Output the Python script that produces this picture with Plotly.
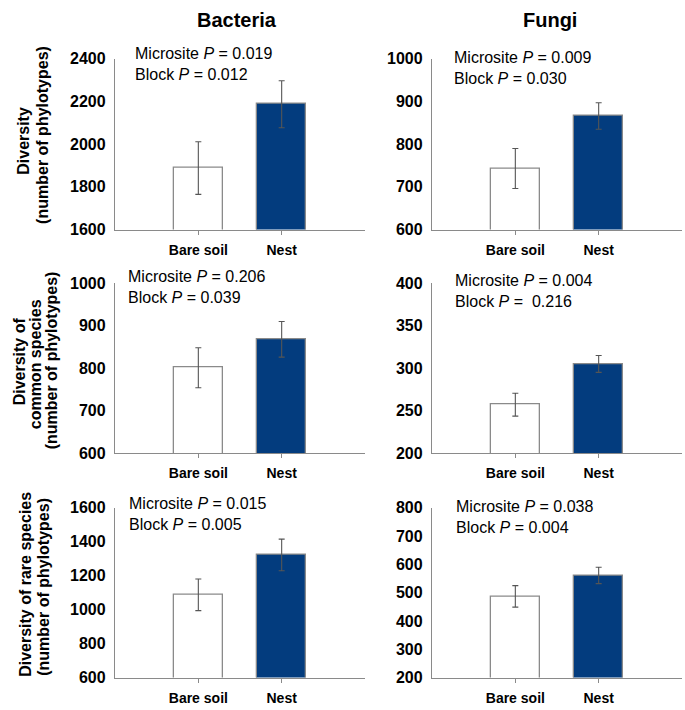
import plotly.graph_objects as go

W, H = 685, 710

categories = ["Bare soil", "Nest"]

# Panel values (mean, SE)
bact_div = [1888, 2187]
bact_div_err = [123, 110]
fungi_div = [743, 866]
fungi_div_err = [47, 31]
bact_common = [801, 868]
bact_common_err = [47, 42]
fungi_common = [257, 305]
fungi_common_err = [13.5, 10]
bact_rare = [1087, 1322]
bact_rare_err = [93, 93]
fungi_rare = [487, 561]
fungi_rare_err = [38, 29]

ranges = [[1600, 2400], [600, 1000], [600, 1000], [200, 400], [600, 1600], [200, 800]]
dticks = [200, 100, 100, 50, 200, 100]

p_texts = [
    "Microsite <i>P</i> = 0.019<br>Block <i>P</i> = 0.012",
    "Microsite <i>P</i> = 0.009<br>Block <i>P</i> = 0.030",
    "Microsite <i>P</i> = 0.206<br>Block <i>P</i> = 0.039",
    "Microsite <i>P</i> = 0.004<br>Block <i>P</i> =  0.216",
    "Microsite <i>P</i> = 0.015<br>Block <i>P</i> = 0.005",
    "Microsite <i>P</i> = 0.038<br>Block <i>P</i> = 0.004",
]
col_titles = ["Bacteria", "Fungi"]
row_title_lines = [
    ["Diversity", "(number of phylotypes)"],
    ["Diversity of", "common species", "(number of phylotypes)"],
    ["Diversity of rare species", "(number of phylotypes)"],
]

vals = [bact_div, fungi_div, bact_common, fungi_common, bact_rare, fungi_rare]
errs = [bact_div_err, fungi_div_err, bact_common_err, fungi_common_err, bact_rare_err, fungi_rare_err]

FONT = "Arial, Liberation Sans, sans-serif"
NAVY = "#033c7e"
GRAY = "#8a8a8a"

# pixel layout
col_x = [(115, 365), (432, 682)]
row_y = [(52, 227), (282, 456), (512, 686)]

fig = go.Figure()
layout = {}
for i in range(6):
    r, c = divmod(i, 2)
    n = i + 1
    xa = "x" if n == 1 else f"x{n}"
    ya = "y" if n == 1 else f"y{n}"
    fig.add_trace(go.Bar(
        x=[0, 1], y=vals[i], xaxis=xa, yaxis=ya, width=0.59,
        marker=dict(color=["white", NAVY], line=dict(color=GRAY, width=1.3)),
        error_y=dict(type="data", array=errs[i], color="#555555", thickness=1.1, width=3),
        showlegend=False, hoverinfo="skip",
    ))
    x0, x1 = col_x[c]
    y0, y1 = row_y[r]
    xk = "xaxis" if n == 1 else f"xaxis{n}"
    yk = "yaxis" if n == 1 else f"yaxis{n}"
    layout[xk] = dict(
        domain=[x0 / W, x1 / W], anchor=ya, range=[-1, 2],
        tickvals=[0, 1], ticktext=categories,
        showline=True, linecolor=GRAY, linewidth=1.3,
        ticks="outside", ticklen=4, tickcolor=GRAY, tickwidth=1,
        tickfont=dict(family=FONT, size=14, color="black", weight="bold"),
        ticklabelstandoff=3,
        showgrid=False, zeroline=False, fixedrange=True,
    )
    layout[yk] = dict(
        domain=[1 - y1 / H, 1 - y0 / H], anchor=xa, range=ranges[i], dtick=dticks[i],
        showline=True, linecolor=GRAY, linewidth=1.3,
        ticks="outside", ticklen=5, tickcolor="rgba(0,0,0,0)",
        tickfont=dict(family=FONT, size=16, color="black", weight="bold"),
        showgrid=False, zeroline=False, fixedrange=True,
    )

annotations = []
p_pos = [(133, 57), (452, 61), (126, 286), (453, 290), (127, 518), (454, 521)]
for t, (px, py) in zip(p_texts, p_pos):
    annotations.append(dict(
        text=t, x=px / W, y=1 - py / H, xref="paper", yref="paper",
        xanchor="left", yanchor="middle", align="left", showarrow=False,
        font=dict(family=FONT, size=16, color="black"),
    ))
for t, px in zip(col_titles, [237, 550]):
    annotations.append(dict(
        text=f"<b>{t}</b>", x=px / W, y=1 - 12 / H, xref="paper", yref="paper",
        xanchor="center", yanchor="middle", showarrow=False,
        font=dict(family=FONT, size=20, color="black"),
    ))
row_line_pos = [
    [(24, 136), (43, 130)],
    [(19, 362), (35, 365), (51, 361)],
    [(26, 591), (44, 593)],
]
for lines, poss in zip(row_title_lines, row_line_pos):
    for t, (px, py) in zip(lines, poss):
        annotations.append(dict(
            text=f"<b>{t}</b>", x=px / W, y=1 - py / H, xref="paper", yref="paper",
            xanchor="center", yanchor="middle", textangle=-90, showarrow=False,
            font=dict(family=FONT, size=16, color="black"),
        ))

fig.update_layout(
    **layout,
    annotations=annotations,
    width=W, height=H,
    margin=dict(l=0, r=0, t=0, b=0),
    paper_bgcolor="white", plot_bgcolor="white",
    bargap=0,
)

# pin the graph to the top-left corner of the page (no body margin / scrolling)
pin_js = (
    "document.documentElement.style.margin='0';"
    "document.body.style.margin='0';"
    "document.body.style.overflow='hidden';"
    "var d=document.getElementById('{plot_id}');"
    "d.style.position='fixed';d.style.left='0px';d.style.top='0px';"
)
fig.write_html("out.html", config={"displayModeBar": False}, post_script=pin_js)
